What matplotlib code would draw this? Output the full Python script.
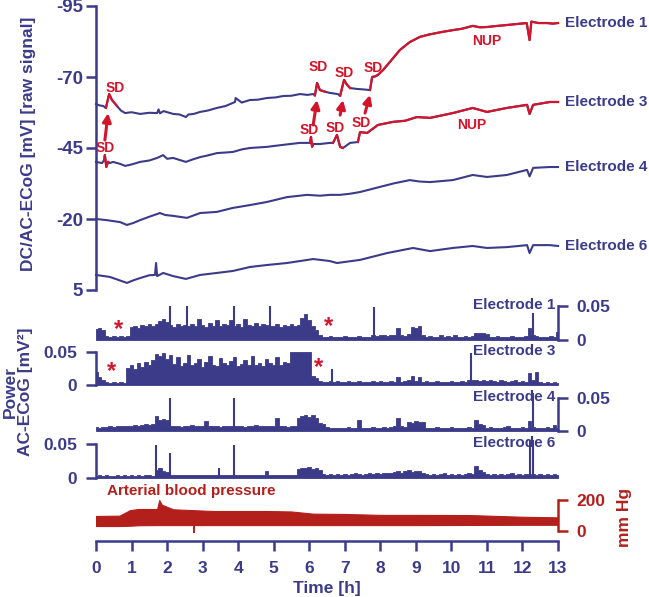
import numpy as np
import matplotlib
matplotlib.use("Agg")
import matplotlib.pyplot as plt

plt.rcParams['font.family'] = ['Liberation Sans', 'DejaVu Sans']
plt.rcParams['font.weight'] = 'bold'
plt.rcParams['axes.labelweight'] = 'bold'

NAVY = '#3b3b8a'
RED = '#d3152b'
BP_RED = '#b3201c'

# ---- DC/AC-ECoG raw traces: time [h], potential [mV] ----
e1_t = [0.0, 0.1, 0.2, 0.28, 0.31, 0.37, 0.45, 0.59, 0.7, 0.82, 1.0, 1.24, 1.5, 1.72, 1.76, 1.8, 1.9, 2.17, 2.35, 2.53,
        2.6, 2.75, 2.93, 3.15, 3.4, 3.65, 3.91, 3.93, 4.1, 4.33, 4.55, 4.81, 5.05, 5.26, 5.5, 5.74, 5.95, 6.11, 6.16, 6.22,
        6.3, 6.45, 6.58, 6.8, 6.87, 6.98, 7.05, 7.15, 7.34, 7.55, 7.71, 7.77, 7.85, 7.93, 8.08, 8.27, 8.55, 8.83, 9.11, 9.35,
        9.59, 9.8, 10.04, 10.3, 10.6, 10.8, 11.0, 11.3, 11.56, 11.8, 12.12, 12.2, 12.25, 12.45, 12.69, 12.85, 13.0]
e1_v = [-60.5, -60.0, -59.8, -59.1, -60.8, -64.0, -61.9, -59.8, -58.2, -57.3, -57.6, -57.0, -57.4, -57.3, -58.6, -57.2, -58.0, -57.0, -56.8, -55.9,
        -56.8, -57.0, -57.7, -58.2, -59.1, -59.8, -61.2, -62.6, -61.0, -61.9, -62.0, -62.6, -62.8, -63.3, -63.4, -64.0, -63.7, -64.0, -63.5, -67.9,
        -65.4, -64.8, -64.4, -64.0, -63.4, -69.0, -67.5, -66.1, -65.8, -65.6, -65.4, -70.0, -70.2, -70.7, -72.5, -75.3, -79.5, -82.3, -84.1, -84.9,
        -85.5, -86.0, -86.5, -87.0, -88.0, -87.5, -87.6, -88.0, -88.3, -88.6, -89.0, -83.0, -89.5, -89.0, -89.0, -88.8, -89.0]

e3_t = [0.0, 0.17, 0.23, 0.25, 0.29, 0.34, 0.39, 0.48, 0.68, 0.82, 1.0, 1.24, 1.5, 1.72, 1.89, 2.0, 2.17, 2.35, 2.53, 2.7,
        2.93, 3.15, 3.4, 3.85, 4.1, 4.33, 4.81, 5.26, 5.74, 6.02, 6.05, 6.08, 6.11, 6.3, 6.58, 6.67, 6.78, 6.87, 6.95, 7.15,
        7.37, 7.43, 7.63, 7.93, 8.36, 8.7, 9.03, 9.4, 9.7, 10.04, 10.6, 11.0, 11.56, 12.13, 12.2, 12.3, 12.77, 13.0]
e3_v = [-40.1, -39.7, -40.8, -42.5, -38.3, -40.1, -39.7, -40.1, -39.4, -38.7, -39.2, -40.1, -40.6, -41.5, -42.5, -41.2, -41.5, -40.8, -40.1, -40.9,
        -41.8, -42.4, -43.2, -43.6, -44.5, -45.0, -45.4, -46.1, -46.8, -46.8, -48.9, -45.4, -46.4, -46.4, -46.8, -46.8, -49.6, -45.4, -45.0, -46.8,
        -47.1, -50.6, -50.3, -53.1, -54.2, -54.6, -55.9, -55.6, -56.4, -57.3, -59.1, -57.7, -59.1, -60.2, -57.0, -60.2, -61.2, -61.2]

e4_t = [0.0, 0.3, 0.68, 0.87, 1.05, 1.24, 1.5, 1.8, 1.95, 2.17, 2.56, 2.93, 3.4, 3.85, 4.33, 4.81, 5.37, 5.94, 6.3, 6.58,
        6.87, 7.15, 7.43, 7.99, 8.4, 8.83, 9.1, 9.4, 10.04, 10.6, 11.0, 11.56, 12.13, 12.2, 12.3, 12.77, 13.0]
e4_v = [-20.0, -19.6, -18.9, -17.9, -18.6, -19.6, -20.8, -22.1, -21.4, -21.1, -20.4, -22.1, -22.5, -23.9, -24.9, -26.0, -27.7, -28.5, -28.2, -28.5,
        -28.5, -28.9, -29.5, -31.3, -32.6, -33.7, -33.2, -33.0, -33.7, -35.5, -34.8, -35.5, -37.3, -35.0, -38.0, -38.3, -38.3]

e6_t = [0.0, 0.39, 0.87, 1.05, 1.24, 1.5, 1.66, 1.69, 1.72, 1.89, 2.17, 2.53, 2.93, 3.4, 3.85, 4.33, 4.81, 5.37, 6.11, 6.58,
        6.78, 7.43, 8.19, 8.92, 9.4, 10.04, 10.6, 11.0, 11.56, 12.13, 12.2, 12.3, 12.77, 13.0]
e6_v = [-0.3, 0.4, 2.5, 1.6, 0.8, -0.2, -0.3, -4.5, 0.1, -1.0, 0.1, 1.1, -0.3, -1.0, -1.7, -3.1, -3.8, -4.5, -5.9, -5.2,
        -4.5, -5.6, -8.0, -9.8, -8.7, -9.8, -10.5, -9.8, -10.1, -10.8, -8.0, -10.8, -10.8, -10.5]

# SD / NUP periods drawn in red (start h, end h)
e1_red = [(0.28, 0.59), (6.16, 6.45), (6.87, 7.15), (7.71, 13.0)]
e3_red = [(0.23, 0.34), (6.02, 6.11), (6.67, 6.95), (7.37, 13.0)]

dc_names = ['Electrode 1', 'Electrode 3', 'Electrode 4', 'Electrode 6']
dc_ticks = [-95, -70, -45, -20, 5]
dc_tick_labels = ['-95', '-70', '-45', '-20', '5']

# ---- AC-ECoG power, one value every 0.1 h, in 1e-3 mV^2 ----
pw_t = np.round(np.arange(131) * 0.1, 1)
e1_pow = [16, 17, 15, 6, 5, 6, 5, 6, 5, 6, 19, 21, 18, 22, 20, 23, 21, 24, 28, 31, 27, 22, 19, 23, 20, 22,
          21, 24, 20, 31, 22, 19, 25, 21, 30, 20, 23, 22, 29, 20, 24, 19, 31, 22, 21, 25, 20, 23, 22,
          21, 20, 23, 19, 22, 21, 24, 20, 22, 33, 38, 29, 20, 14, 8, 5, 4, 6, 5, 4, 5, 6, 5, 4, 5, 6, 5, 4, 5,
          7, 6, 8, 7, 6, 7, 8, 18, 7, 6, 9, 19, 18, 20, 7, 5, 6, 5, 4, 8, 5, 6, 5, 7, 5, 4, 6, 5, 6,
          10, 11, 10, 9, 5, 4, 6, 5, 4, 5, 6, 5, 4, 5, 6, 18, 7, 6, 5, 4, 5, 6, 5, 12]
e3_pow = [20, 12, 8, 4, 3, 4, 3, 4, 3, 26, 30, 25, 33, 28, 35, 31, 38, 47, 44, 48, 40, 46,
          32, 42, 29, 34, 45, 30, 33, 40, 28, 35, 44, 31, 29, 41, 33, 30, 36, 43, 29, 32, 38, 31, 44, 30, 34, 29, 39, 33, 31, 42, 30, 35, 33,
          50, 50, 50, 50, 50, 50, 14, 10, 6, 5, 4, 6,
          5, 6, 4, 5, 6, 5, 4, 6, 5, 5, 4, 6, 5, 6, 4, 5, 6, 5, 12, 5, 6, 7, 13, 6, 12, 5, 6,
          5, 4, 6, 5, 5, 4, 6, 5, 4, 6, 5, 7, 8, 7, 6, 8, 6, 7, 6, 5, 7, 6, 5, 6, 7, 5, 6, 5,
          18, 8, 19, 4, 3, 4, 3, 4, 3]
e4_pow = [6, 5, 6, 6, 7, 6, 7, 7, 8, 7, 8, 9, 8, 9, 10, 9, 10, 22, 17, 18, 16,
          7, 8, 7, 6, 8, 7, 9, 8, 7, 8, 15, 7, 8, 7, 6, 8, 7, 8, 7, 8, 7, 6, 8, 7, 9, 8, 7, 8, 7, 8, 19, 8, 7, 6, 8, 7,
          19, 22, 25, 21, 24, 20, 12, 10, 6, 5, 4, 5, 4, 5, 6, 4, 5, 17, 5, 4, 5, 6, 5, 4, 6, 5, 6, 7, 19, 7, 6,
          14, 12, 15, 13, 14, 5, 4, 5, 6, 5, 4, 5, 6, 4, 5, 4, 5, 6, 5, 17, 11, 9, 5, 6, 5, 4, 5, 6, 8, 5, 4, 5, 6, 5,
          15, 6, 5, 4, 5, 6, 5, 9, 5]
e6_pow = [3, 4, 3, 4, 3, 3, 4, 3, 4, 3, 4, 3, 4, 3, 4, 4, 3, 12, 14, 11, 9,
          4, 5, 4, 4, 5, 4, 5, 4, 4, 5, 4, 5, 4, 4, 5, 4, 5, 4, 5, 4, 5, 4, 4, 5, 4, 5, 4, 11, 5, 4, 5, 4, 5, 4, 5, 4,
          13, 15, 14, 16, 13, 15, 12, 6, 5, 6, 5, 6, 5, 6, 5, 6, 7, 6, 5, 6, 7, 6, 7, 6, 7, 8, 7,
          9, 11, 8, 10, 12, 9, 11, 10, 8, 6, 5, 6, 5, 6, 7, 5, 6, 5, 6, 5, 6, 7, 6, 17, 12, 9,
          6, 5, 6, 5, 6, 5, 6, 7, 5, 6, 5, 6, 5, 6, 5, 6, 5, 6, 5, 6, 5]
# isolated artefact spikes (h, 1e-3 mV^2)
e1_spk_t = [2.08, 2.55, 3.88, 4.9, 7.82, 12.3]
e1_spk_h = [50, 50, 50, 50, 49, 40]
e3_spk_t = [6.64, 10.55]
e3_spk_h = [25, 48]
e4_spk_t = [2.08, 3.88, 12.3]
e4_spk_h = [50, 50, 57]
e6_spk_t = [1.69, 2.08, 3.46, 3.88, 12.2, 12.3]
e6_spk_h = [49, 37, 14, 49, 56, 56]

# ---- arterial blood pressure envelope [mm Hg] ----
bp_t = [0.0, 0.66, 0.96, 1.2, 1.72, 1.78, 1.85, 2.17, 3.3, 4.8, 5.5, 6.1, 7.0, 8.0, 9.0, 10.5, 12.0, 13.0]
bp_sys = [97, 99, 135, 142, 142, 200, 170, 140, 129, 129, 126, 112, 110, 104, 104, 103, 92, 88]
bp_dia = [32, 32, 34, 37, 38, 38, 38, 38, 38, 38, 38, 38, 38, 38, 38, 39, 40, 40]
bp_dip_t = 2.76
bp_dip_v = -15

W, H = 649, 597
fig = plt.figure(figsize=(W / 100, H / 100), dpi=100)
BOLD = dict(fontweight='bold')


def px_axes(x0, y0, x1, y1):
    ax = fig.add_axes([x0 / W, 1 - y1 / H, (x1 - x0) / W, (y1 - y0) / H])
    ax.patch.set_visible(False)
    for s in ax.spines.values():
        s.set_visible(False)
    ax.set_xlim(0, 13)
    return ax


# ---------------- DC panel ----------------
ax = px_axes(96, 6, 558, 290)
ax.set_ylim(5, -95)
ax.xaxis.set_visible(False)
ax.spines['left'].set_visible(True)
ax.spines['left'].set_linewidth(1.8)
ax.spines['left'].set_color(NAVY)
ax.set_yticks(dc_ticks)
ax.set_yticklabels(dc_tick_labels, **BOLD)
ax.tick_params(axis='y', length=7.5, width=1.8, color=NAVY, labelcolor=NAVY, labelsize=13.5, pad=2)

traces = [(e1_t, e1_v, e1_red), (e3_t, e3_v, e3_red), (e4_t, e4_v, []), (e6_t, e6_v, [])]
for (t, v, reds), name in zip(traces, dc_names):
    t = np.array(t)
    v = np.array(v)
    ax.plot(t, v, color=NAVY, lw=1.5, clip_on=False)
    for a, b in reds:
        m = (t >= a) & (t <= b)
        ax.plot(t[m], v[m], color=RED, lw=1.6, clip_on=False)
    ax.text(13.2, v[-1], name, ha='left', va='center', color=NAVY, fontsize=11, **BOLD)

# SD / NUP annotations
sd_pos = [(0.53, -66.1), (0.25, -45.0), (6.25, -73.5), (5.99, -51.3),
          (6.98, -71.4), (6.72, -52.0), (7.8, -73.2), (7.46, -53.8)]
for x, y in sd_pos:
    ax.text(x, y, 'SD', ha='center', va='center', color=RED, fontsize=10, **BOLD)
ax.text(11.0, -82.7, 'NUP', ha='center', va='center', color=RED, fontsize=10, **BOLD)
ax.text(10.58, -53.1, 'NUP', ha='center', va='center', color=RED, fontsize=10, **BOLD)
arrows = [((0.25, -47.8), (0.34, -57.3)), ((6.11, -53.1), (6.22, -61.9)),
          ((6.87, -56.6), (6.95, -61.9)), ((7.57, -57.3), (7.71, -63.7))]
for tail, head in arrows:
    ax.annotate('', xy=head, xytext=tail,
                arrowprops=dict(arrowstyle='-|>,head_length=0.5,head_width=0.25',
                                color=RED, lw=2.2, shrinkA=0, shrinkB=0))

fig.text(29 / W, 1 - 144 / H, 'DC/AC-ECoG [mV] [raw signal]', rotation=90,
         ha='center', va='center', color=NAVY, fontsize=12.5, **BOLD)

# ---------------- power panels ----------------
panels = [
    ((96, 306, 558, 340), e1_pow, e1_spk_t, e1_spk_h, 'right', 'Electrode 1'),
    ((96, 352, 558, 385), e3_pow, e3_spk_t, e3_spk_h, 'left', 'Electrode 3'),
    ((96, 398, 558, 431), e4_pow, e4_spk_t, e4_spk_h, 'right', 'Electrode 4'),
    ((96, 444, 558, 478), e6_pow, e6_spk_t, e6_spk_h, 'left', 'Electrode 6'),
]
pax = []
for box, pw, st, sh, side, name in panels:
    a = px_axes(*box)
    a.set_ylim(0, 0.05)
    a.xaxis.set_visible(False)
    p = np.array(pw) * 1e-3
    a.fill_between(pw_t, 0, p, step='mid', color=NAVY, lw=0.6, clip_on=False)
    a.vlines(st, 0, np.array(sh) * 1e-3, color=NAVY, lw=1.5, clip_on=False)
    a.spines[side].set_visible(True)
    a.spines[side].set_linewidth(1.8)
    a.spines[side].set_color(NAVY)
    if side == 'right':
        a.yaxis.tick_right()
    a.set_yticks([0, 0.05])
    a.set_yticklabels(['0', '0.05'], **BOLD)
    a.tick_params(axis='y', length=7.5, width=1.8, color=NAVY, labelcolor=NAVY, labelsize=12.5, pad=6)
    a.text(12.92, 0.051, name, ha='right', va='center', color=NAVY, fontsize=11, **BOLD)
    pax.append(a)

# asterisks marking depression periods
star = dict(ha='center', va='center', color=RED, fontsize=17, **BOLD)
pax[0].text(0.62, 0.016, '*', **star)
pax[0].text(6.53, 0.020, '*', **star)
pax[1].text(0.45, 0.021, '*', **star)
pax[1].text(6.25, 0.026, '*', **star)

fig.text(18 / W, 1 - 392 / H, 'Power\nAC-ECoG [mV²]', rotation=90, ha='center', va='center',
         multialignment='center', linespacing=1.05, color=NAVY, fontsize=12.5, **BOLD)

# ---------------- blood pressure + time axis ----------------
bx = px_axes(96, 490, 558, 533)
bx.set_ylim(-12.9, 264.5)
bx.fill_between(bp_t, bp_dia, bp_sys, color=BP_RED, lw=0.8)
bx.vlines([bp_dip_t], bp_dip_v, 40, color=BP_RED, lw=1.4, clip_on=False)
bx.text(0.31, 258, 'Arterial blood pressure', ha='left', va='center', color=BP_RED, fontsize=11, **BOLD)

bx.spines['right'].set_visible(True)
bx.spines['right'].set_bounds(0, 200)
bx.spines['right'].set_linewidth(1.8)
bx.spines['right'].set_color(BP_RED)
bx.yaxis.tick_right()
bx.set_yticks([0, 200])
bx.set_yticklabels(['0', '200'], **BOLD)
bx.tick_params(axis='y', length=7.5, width=1.8, color=BP_RED, labelcolor=BP_RED, labelsize=12.5, pad=6)

bx.spines['bottom'].set_visible(True)
bx.spines['bottom'].set_position(('outward', 5.5))
bx.spines['bottom'].set_linewidth(1.8)
bx.spines['bottom'].set_color(NAVY)
bx.set_xticks(range(14))
bx.set_xticklabels([str(i) for i in range(14)], **BOLD)
bx.tick_params(axis='x', length=7, width=1.8, color=NAVY, labelcolor=NAVY, labelsize=12.5, pad=8)
bx.set_xlabel('Time [h]', color=NAVY, fontsize=12.5, labelpad=3, **BOLD)

fig.text(625 / W, 1 - 517 / H, 'mm Hg', rotation=90, ha='center', va='center', color=BP_RED,
         fontsize=12.5, **BOLD)

fig.savefig('out.png', dpi=100)
